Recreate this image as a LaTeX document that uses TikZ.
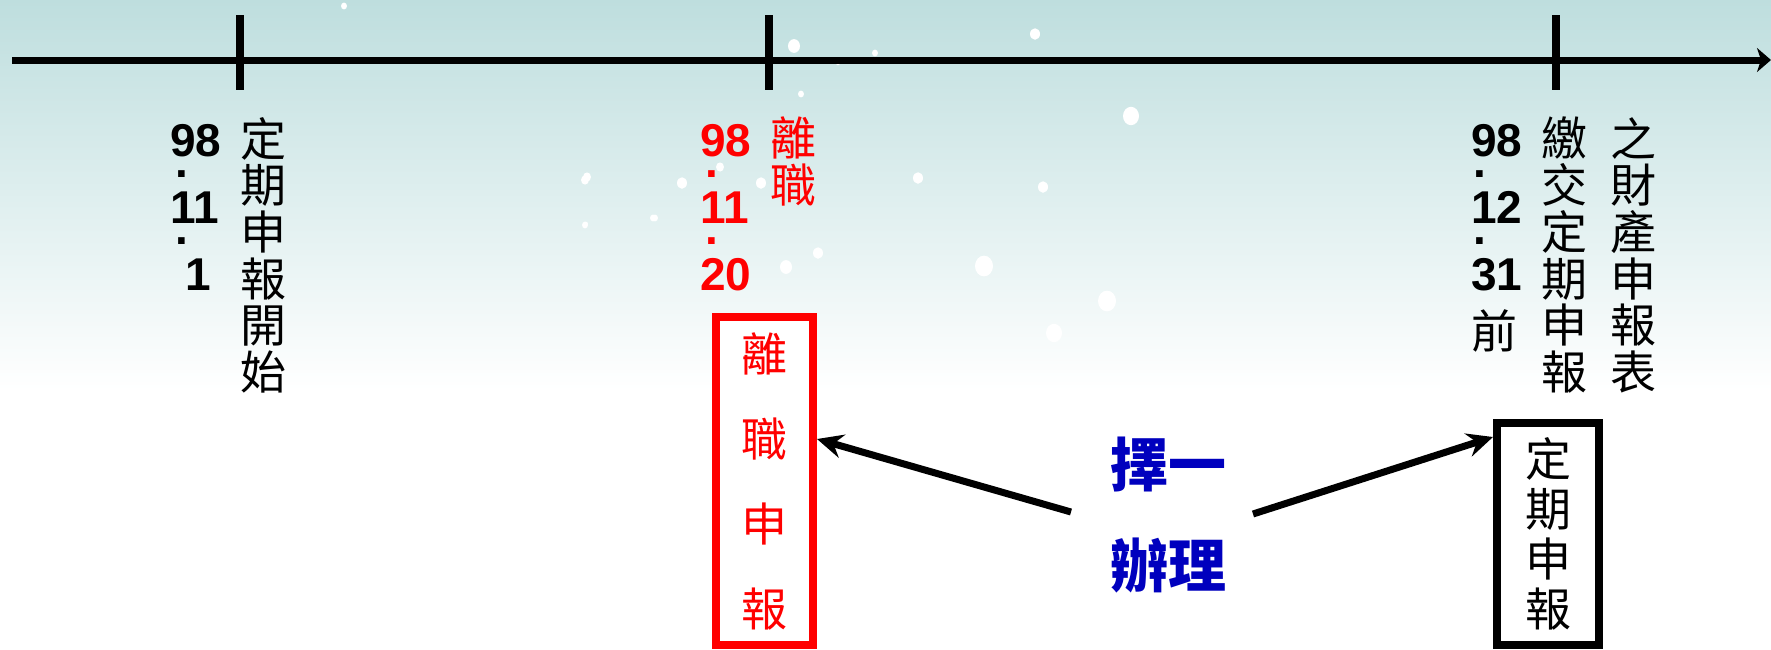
\documentclass[tikz,border=0pt]{standalone}
\usepackage{fontspec}
\setmainfont{Liberation Sans}
\newfontfamily\cjk{Noto Sans CJK TC}
\usetikzlibrary{arrows.meta}
\definecolor{bgtop}{RGB}{190,222,222}
\definecolor{kred}{RGB}{255,0,0}
\definecolor{kblue}{RGB}{0,0,190}
\tikzset{
  axisline/.style={line width=7pt},
  tickline/.style={line width=7.5pt},
  datecol/.style={font=\fontsize{46}{21}\selectfont\bfseries, inner sep=0pt, anchor=north west},
  vtext/.style={font=\cjk\fontsize{46}{46.7}\selectfont, align=center, inner sep=0pt, anchor=north},
  flake/.style={fill=white, draw=none},
  ptr/.style={line width=7pt, -{Stealth[length=26pt,width=24pt,inset=9pt]}},
  redbox/.style={draw=kred, line width=8pt, fill=white, minimum width=97pt, minimum height=328pt,
    inner sep=0pt, text=kred, align=center, font=\cjk\fontsize{46}{85}\selectfont},
  blkbox/.style={draw=black, line width=8pt, fill=white, minimum width=102pt, minimum height=222pt,
    inner sep=0pt, align=center, font=\cjk\fontsize{46}{50}\selectfont},
  bluetext/.style={text=kblue, align=center, inner sep=0pt, font=\cjk\bfseries\fontsize{58}{101}\selectfont}
}
\begin{document}
\begin{tikzpicture}[x=1pt, y=-1pt]
\useasboundingbox (0,0) rectangle (1771,649);
% background
\fill[white] (0,0) rectangle (1771,649);
\shade[top color=bgtop, bottom color=white] (0,0) rectangle (1771,390);
% snow
\foreach \x/\y/\r in {344/6/3, 794/46/6, 875/53/3, 838/63/2, 1035/34/5, 1131/116/8, 801/94/3,
  587/177/4, 682/183/5, 761/183/5, 720/167/4, 655/218/3, 585/180/4, 585/225/3, 586/224/2,
  918/178/5, 1043/187/5, 984/266/9, 1107/301/9, 1054/333/8, 818/253/5, 786/267/6, 653/218/3}
  \fill[flake] (\x,\y) ellipse ({\r} and {1.15*\r});
\fill[white, opacity=0.6] (1310,392) ellipse (9 and 11);
% timeline
\coordinate (tlA) at (12,60);
\coordinate (tlB) at (1771,60);
\draw[axisline, -{Stealth[length=14pt,width=24pt,inset=4pt]}] (tlA) -- (tlB);
\coordinate (k1a) at (240,15); \coordinate (k1b) at (240,90);
\coordinate (k2a) at (769,15); \coordinate (k2b) at (769,90);
\coordinate (k3a) at (1556,15); \coordinate (k3b) at (1556,90);
\draw[tickline] (k1a) -- (k1b);
\draw[tickline] (k2a) -- (k2b);
\draw[tickline] (k3a) -- (k3b);
% column 1
\node[datecol] (adate) at (170,124.5) {\vbox{\baselineskip=21pt\lineskiplimit=-100pt
  \hbox{98}\hbox{\kern5pt.}\vskip25pt\hbox{11}\hbox{\kern5pt.}\vskip25pt\hbox{\kern15pt 1}}};
\node[vtext] (atx) at (263,117) {定\\期\\申\\報\\開\\始};
% column 2
\node[datecol, text=kred] (bdate) at (700,124.5) {\vbox{\baselineskip=21pt\lineskiplimit=-100pt
  \hbox{98}\hbox{\kern5pt.}\vskip25pt\hbox{11}\hbox{\kern5pt.}\vskip25pt\hbox{20}}};
\node[vtext, text=kred] (btx) at (793,117) {離\\職};
% column 3
\node[datecol] (cdate) at (1471,124.5) {\vbox{\baselineskip=21pt\lineskiplimit=-100pt
  \hbox{98}\hbox{\kern2pt.}\vskip25pt\hbox{12}\hbox{\kern2pt.}\vskip25pt\hbox{31}\vskip37pt
  \hbox{\cjk\mdseries 前}}};
\node[vtext] (ctx1) at (1564,117) {繳\\交\\定\\期\\申\\報};
\node[vtext] (ctx2) at (1633,117) {之\\財\\產\\申\\報\\表};
% boxes
\node[redbox] (leave) at (764.5,481) {離\\職\\申\\報};
\node[blkbox] (regular) at (1548,534) {定\\期\\申\\報};
% choice
\node[bluetext] (choice) at (1168,515) {擇一\\辦理};
\coordinate (cL) at (1071,512);
\coordinate (cR) at (1253,514);
\draw[ptr] (cL) -- ([yshift=42pt]leave.east);
\draw[ptr] (cR) -- ([yshift=97pt]regular.west);
\end{tikzpicture}
\end{document}
